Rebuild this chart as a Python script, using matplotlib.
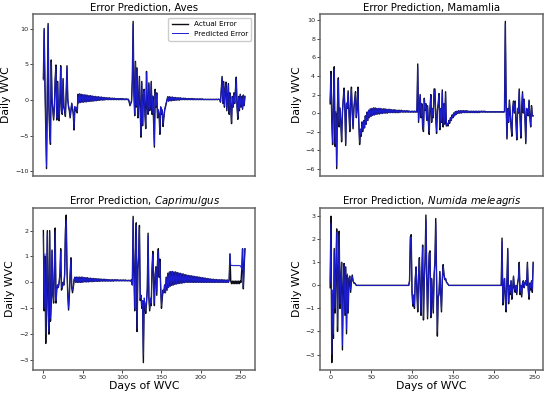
import matplotlib
matplotlib.use("Agg")
import matplotlib.pyplot as plt
import numpy as np

# ---------------- Aves ----------------
aves_a_act = [3.0, 10.0, 2.0, -4.0, -9.6, 1.0, 10.7, -1.0, -4.5, -6.2,
              5.6, 0.0, -1.5, -2.8, -1.0, 3.0, 4.9, -2.8, 2.6, -1.0,
              -2.9, 0.0, 4.8, -1.5, -2.0, 3.0, -1.0, -1.5, -2.3, 1.0,
              4.8, 0.0, -1.0, -1.5, -2.5, -1.5, -0.5, -1.2, -2.0, -4.2,
              -1.0, -1.5, -1.2, -1.8]
aves_a_pred = [2.8, 9.8, 2.5, -3.5, -9.3, 1.5, 10.4, -0.5, -4.2, -5.9,
               5.3, 0.3, -1.2, -2.6, -0.8, 2.7, 4.7, -2.5, 2.4, -0.8,
               -2.7, 0.2, 4.6, -1.2, -1.8, 2.8, -0.8, -1.3, -2.1, 1.0,
               4.6, 0.2, -0.8, -1.3, -2.3, -1.3, -0.4, -1.0, -1.8, -4.0,
               -0.9, -1.3, -1.0, -1.6]
aves_osc1 = [0.8, -0.4, 0.85, -0.35, 0.8, -0.3, 0.75, -0.3, 0.7, -0.25,
             0.7, -0.25, 0.65, -0.2, 0.6, -0.2, 0.6, -0.15, 0.55, -0.15,
             0.5, -0.1, 0.5, -0.1, 0.45, -0.05, 0.45, -0.05, 0.4, 0.0,
             0.4, 0.0, 0.35, 0.0, 0.35, 0.05, 0.3, 0.05, 0.3, 0.05,
             0.3, 0.05, 0.25, 0.05, 0.25, 0.05, 0.25, 0.05, 0.2, 0.05,
             0.2, 0.05, 0.2, 0.05, 0.2, 0.05, 0.2, 0.05, 0.15, 0.05,
             0.15, 0.05, 0.15, 0.05, 0.1]
aves_b_act = [-0.3, -0.8, -0.5, -0.2, 3.0, 11.0, 1.0, -2.2, 5.4, -1.0,
              4.5, -2.5, -0.5, 3.3, -1.5, -5.2, 2.6, -3.6, 0.5, 1.5,
              -2.0, -4.0, 4.0, -1.0, -2.0, 2.4, -1.5, -1.0, 2.6, -2.0,
              0.5, -3.0, -6.6, 1.5, -1.0, 1.0, -2.5, -1.5, -2.0, -4.8,
              -1.0, -2.0, -1.5, -3.7, -2.5, -1.5, -1.0, -0.5, 0.0]
aves_b_pred = [-0.2, -0.7, -0.4, -0.1, 2.8, 10.6, 1.2, -2.0, 5.2, -0.8,
               4.3, -2.3, -0.3, 3.1, -1.3, -5.0, 2.4, -3.4, 0.6, 1.3,
               -1.8, -3.8, 3.8, -0.8, -1.8, 2.2, -1.3, -0.8, 2.4, -1.8,
               0.6, -2.8, -6.3, 1.3, -0.8, 0.9, -2.3, -1.3, -1.8, -4.6,
               -0.9, -1.8, -1.3, -3.5, -2.3, -1.3, -0.8, -0.4, 0.0]
aves_osc2 = [0.45, -0.15, 0.45, -0.1, 0.4, -0.1, 0.4, -0.05, 0.35, -0.05,
             0.35, 0.0, 0.3, 0.0, 0.3, 0.0, 0.3, 0.05, 0.25, 0.05,
             0.25, 0.05, 0.25, 0.05, 0.2, 0.05, 0.2, 0.05, 0.2, 0.05,
             0.2, 0.05, 0.2, 0.05, 0.15, 0.05, 0.15, 0.05, 0.15, 0.05,
             0.15, 0.05, 0.15, 0.05, 0.15, 0.05, 0.1, 0.05, 0.1, 0.05,
             0.1, 0.05, 0.1, 0.05, 0.1, 0.05, 0.1, 0.05, 0.1, 0.05,
             0.1, 0.05, 0.1, 0.05, 0.1]
aves_d_act = [0.1, 0.05, -0.3, 1.5, 3.3, -0.5, 2.6, -1.0, 1.5, 2.5,
              -1.5, 0.5, 2.3, -2.0, 1.0, -1.0, -3.3, 0.5, -1.0, 1.0,
              -0.5, 1.5, 3.2, -1.0, -2.7, 0.5, -1.5, 0.8, -1.0, 0.5,
              -1.3, 0.7, -0.8, 0.5]
aves_d_pred = [0.1, 0.05, -0.2, 1.4, 3.1, -0.4, 2.4, -0.8, 1.4, 2.3,
               -1.3, 0.5, 2.1, -1.8, 0.9, -0.9, -3.1, 0.4, -0.9, 0.9,
               -0.4, 1.4, 3.0, -0.9, -2.5, 0.4, -1.3, 0.7, -0.9, 0.4,
               -1.2, 0.6, -0.7, 0.5]

# ---------------- Mamamlia ----------------
mam_a_act = [1.0, 4.5, -1.0, -3.4, 1.5, 5.0, -3.6, 0.0, -6.0, 1.0,
             3.8, -1.5, 0.5, -1.0, -3.1, 0.0, 1.5, 2.7, 0.5, -3.5,
             1.0, 0.5, 2.4, 0.0, -2.0, 1.0, 2.8, 0.0, -1.7, 0.5,
             1.5, 2.3, -0.5, 0.5, 2.8, -1.0, -3.4, -1.8, -2.5, -1.0,
             -2.0, -0.8]
mam_a_pred = [1.2, 4.2, -0.8, -3.2, 1.6, 4.7, -3.3, 0.2, -5.7, 1.1,
              3.6, -1.3, 0.6, -0.9, -2.9, 0.1, 1.4, 2.5, 0.6, -3.3,
              1.1, 0.6, 2.2, 0.1, -1.8, 1.1, 2.6, 0.1, -1.5, 0.6,
              1.4, 2.1, -0.4, 0.6, 2.6, -0.9, -3.2, -1.7, -2.3, -0.9,
              -1.9, -0.8]
mam_osc1 = [-1.6, -0.3, -1.2, 0.1, -0.8, 0.3, -0.5, 0.45, -0.35, 0.5,
            -0.25, 0.55, -0.2, 0.55, -0.15, 0.5, -0.1, 0.5, -0.1, 0.5,
            -0.05, 0.45, -0.05, 0.45, 0.0, 0.45, 0.0, 0.4, 0.0, 0.4,
            0.05, 0.4, 0.05, 0.35, 0.05, 0.35, 0.05, 0.35, 0.05, 0.3,
            0.05, 0.3, 0.05, 0.3, 0.1, 0.3, 0.1, 0.25, 0.1, 0.25,
            0.1, 0.25, 0.1, 0.25, 0.1, 0.2, 0.1, 0.2, 0.1, 0.2,
            0.1, 0.2, 0.1, 0.2]
mam_b_act = [0.1, 5.3, -1.0, 0.5, 2.0, -0.5, 1.0, -1.5, -2.0, 1.6,
             0.3, 1.0, -0.8, 0.8, -1.0, -2.3, 0.5, 2.0, -1.0, 0.5,
             -0.5, 2.6, 2.6, -0.5, -2.2, 0.3, 1.0, 2.1, -1.8, 0.5,
             -1.0, 2.5, -1.5, 1.0, -1.2, 2.3, -1.4, -1.2, -1.4, -0.8,
             -1.1, -0.5]
mam_b_pred = [0.1, 5.0, -0.8, 0.6, 1.9, -0.4, 1.0, -1.3, -1.8, 1.5,
              0.4, 1.0, -0.7, 0.8, -0.9, -2.1, 0.5, 1.9, -0.9, 0.5,
              -0.4, 2.4, 2.4, -0.4, -2.0, 0.4, 1.0, 2.0, -1.6, 0.5,
              -0.9, 2.3, -1.3, 1.0, -1.1, 2.1, -1.3, -1.1, -1.3, -0.8,
              -1.0, -0.5]
mam_osc2 = [-0.8, -0.2, -0.5, 0.0, -0.3, 0.15, -0.15, 0.2, -0.05, 0.25,
            0.0, 0.25, 0.0, 0.25, 0.05, 0.25, 0.05, 0.25, 0.05, 0.25,
            0.05, 0.2, 0.05, 0.2, 0.05, 0.2, 0.05, 0.2, 0.05, 0.2,
            0.05, 0.2, 0.05, 0.2, 0.05, 0.2, 0.1, 0.2, 0.1, 0.2,
            0.1, 0.2, 0.1, 0.15, 0.1, 0.15, 0.1, 0.15, 0.1, 0.15,
            0.1, 0.15, 0.1, 0.15, 0.1, 0.15, 0.1, 0.15, 0.1, 0.15,
            0.1, 0.15, 0.1, 0.15, 0.1, 0.15]
mam_c_act = [9.9, 1.0, -2.8, 0.5, -1.0, 1.4, 0.0, -1.5, -2.5, 0.5,
             1.3, 0.0, 1.3, -1.0, -2.9, 0.5, 0.0, 2.6, -0.5, -2.7,
             0.5, 2.3, 0.0, 1.5, -0.5, -3.3, 0.5, 0.2, -0.3, 1.4,
             -0.5, -1.5, 0.8, -0.3, -0.3]
mam_c_pred = [9.6, 1.1, -2.6, 0.5, -0.9, 1.3, 0.1, -1.4, -2.3, 0.5,
              1.2, 0.1, 1.2, -0.9, -2.7, 0.5, 0.1, 2.4, -0.4, -2.5,
              0.5, 2.1, 0.1, 1.4, -0.4, -3.1, 0.5, 0.2, -0.2, 1.3,
              -0.4, -1.4, 0.7, -0.3, -0.3]

# ---------------- Caprimulgus ----------------
cap_a_act = [2.0, -1.1, 1.0, -2.36, -0.5, 2.0, -1.0, -2.0, 2.0, -1.5,
             -0.8, 1.25, -0.5, -0.8, 0.5, 2.1, -0.8, -0.3, -0.1, -0.2,
             0.0, 0.3, 1.3, -0.3, -0.2, 0.0, -0.1, 0.3, 2.0, 2.6,
             0.5, -0.5, -1.07, -0.5, 0.3, 0.95, -0.2, -0.4, -0.2, 0.1]
cap_a_pred = [1.8, -1.0, 1.1, -2.0, -0.4, 1.9, -0.9, -1.9, 1.9, -1.4,
              -0.7, 1.2, -0.4, -0.7, 0.5, 2.0, -0.7, -0.2, -0.1, -0.2,
              0.0, 0.3, 1.2, -0.2, -0.2, 0.0, -0.1, 0.3, 1.9, 2.4,
              0.5, -0.4, -1.0, -0.4, 0.3, 0.9, -0.2, -0.3, -0.2, 0.1]
cap_osc1 = [0.2, 0.0, 0.2, 0.0, 0.2, 0.0, 0.2, 0.0, 0.2, 0.0,
            0.2, 0.02, 0.18, 0.02, 0.18, 0.02, 0.18, 0.02, 0.16, 0.03,
            0.16, 0.03, 0.15, 0.03, 0.15, 0.04, 0.14, 0.04, 0.14, 0.04,
            0.13, 0.04, 0.13, 0.05, 0.12, 0.05, 0.12, 0.05, 0.12, 0.05,
            0.11, 0.05, 0.11, 0.05, 0.1, 0.05, 0.1, 0.05, 0.1, 0.05,
            0.1, 0.06, 0.1, 0.06, 0.1, 0.06, 0.09, 0.06, 0.09, 0.06,
            0.09, 0.06, 0.09, 0.06, 0.09, 0.06, 0.08, 0.06, 0.08, 0.06,
            0.08]
cap_b_act = [0.05, 0.1, -0.1, 2.55, 0.5, -1.1, 1.0, 2.3, -1.9, 0.5,
             1.0, 2.2, -0.7, -0.5, -1.0, -0.8, -3.1, -0.7, -0.9, -1.2,
             -0.8, -0.3, 1.9, -0.6, -1.1, -0.7, -0.9, 0.5, 1.2, 0.0,
             -0.9, 0.3, 0.6, -0.5, 0.8, 1.3, 0.2, 0.9, -0.2, -1.0,
             -0.6, -0.3, -0.4]
cap_b_pred = [0.05, 0.1, -0.1, 2.4, 0.5, -1.0, 1.0, 2.2, -1.8, 0.5,
              1.0, 2.1, -0.6, -0.5, -0.9, -0.7, -2.8, -0.6, -0.8, -1.1,
              -0.7, -0.2, 1.8, -0.5, -1.0, -0.6, -0.8, 0.5, 1.1, 0.0,
              -0.8, 0.3, 0.6, -0.4, 0.8, 1.2, 0.2, 0.8, -0.2, -0.9,
              -0.5, -0.3, -0.4]
cap_osc2 = [-0.1, -0.4, 0.2, -0.3, 0.35, -0.2, 0.4, -0.15, 0.42, -0.12,
            0.42, -0.1, 0.4, -0.08, 0.4, -0.06, 0.38, -0.05, 0.36, -0.04,
            0.35, -0.03, 0.33, -0.02, 0.32, -0.01, 0.3, 0.0, 0.28, 0.0,
            0.27, 0.0, 0.26, 0.0, 0.25, 0.0, 0.24, 0.0, 0.23, 0.0,
            0.22, 0.0, 0.21, 0.0, 0.2, 0.0, 0.19, 0.0, 0.18, 0.0,
            0.17, 0.0, 0.16, 0.0, 0.15, 0.0, 0.14, 0.0, 0.13, 0.0,
            0.12, 0.0, 0.12, 0.0, 0.11, 0.0, 0.11, 0.0, 0.1, 0.0,
            0.1, 0.0, 0.1, 0.0, 0.1, 0.0, 0.09, 0.0, 0.09, 0.0,
            0.09, 0.0, 0.09]
cap_e_act = [1.1, 0.05, -0.05, 0.05, -0.05, 0.05, -0.05, 0.05, -0.05, 0.05,
             -0.05, 0.05, -0.05, 0.05, 0.0, 0.5, 1.3, -0.25, 0.6, 1.3]
cap_e_pred = [1.1, 0.68, 0.65, 0.66, 0.64, 0.66, 0.64, 0.66, 0.64, 0.66,
              0.64, 0.66, 0.64, 0.65, 0.6, 0.5, 1.3, -0.2, 0.6, 1.3]

# ---------------- Numida meleagris ----------------
num_a_act = [-0.1, 3.0, -3.35, -0.4, -2.3, 1.6, -1.2, 0.5, 2.45, -2.0,
             0.5, 2.35, -1.0, 0.2, 1.0, -2.8, -0.1, 0.95, -1.3, 0.8,
             -2.1, 0.45, -1.2, 0.3, 0.4, -0.3, 0.2, 0.45, 0.2, 0.1,
             0.1, 0.05]
num_a_pred = [0.1, 2.7, -3.0, -0.2, -2.1, 1.5, -1.0, 0.6, 2.3, -1.8,
              0.6, 2.2, -0.8, 0.3, 1.0, -2.6, 0.0, 0.9, -1.2, 0.8,
              -1.9, 0.5, -1.1, 0.3, 0.4, -0.2, 0.2, 0.4, 0.2, 0.1,
              0.1, 0.05]
num_flat1 = [0.0, 0.0, 0.0, 0.0, 0.0, 0.0, 0.0, 0.0, 0.0, 0.0, 0.0, 0.0, 0.0,
             0.0, 0.0, 0.0, 0.0, 0.0, 0.0, 0.0, 0.0, 0.0, 0.0, 0.0, 0.0, 0.0,
             0.0, 0.0, 0.0, 0.0, 0.0, 0.0, 0.0, 0.0, 0.0, 0.0, 0.0, 0.0, 0.0,
             0.0, 0.0, 0.0, 0.0, 0.0, 0.0, 0.0, 0.0, 0.0, 0.0, 0.0, 0.0, 0.0,
             0.0, 0.0, 0.0, 0.0, 0.0, 0.0, 0.0, 0.0, 0.0, 0.0, 0.0, 0.0, 0.0]
num_b_act = [0.2, 2.1, 2.2, -0.3, -0.9, -0.5, -1.0, 0.3, 0.8, -0.3,
             -1.15, 0.4, 1.2, -0.2, -1.3, 0.6, 1.75, -1.5, 0.2, 1.1,
             3.05, 0.5, -1.45, 0.2, 1.4, 1.5, -1.4, 0.3, -0.5, -1.2,
             0.45, 1.0, 2.9, 0.5, -2.2, -0.5, -0.4, 0.6, -0.3, -1.15,
             0.2, 0.9, 0.5, 0.25, 0.3, 0.15, 0.1, 0.05]
num_b_pred = [0.2, 2.0, 2.1, -0.2, -0.8, -0.4, -0.9, 0.3, 0.8, -0.2,
              -1.05, 0.4, 1.1, -0.1, -1.2, 0.6, 1.65, -1.4, 0.2, 1.0,
              2.85, 0.5, -1.35, 0.2, 1.3, 1.4, -1.3, 0.3, -0.4, -1.1,
              0.45, 0.9, 2.7, 0.5, -2.0, -0.4, -0.3, 0.6, -0.2, -1.05,
              0.2, 0.85, 0.5, 0.25, 0.3, 0.15, 0.1, 0.05]
num_flat2 = [0.0, 0.0, 0.0, 0.0, 0.0, 0.0, 0.0, 0.0, 0.0, 0.0, 0.0, 0.0, 0.0,
             0.0, 0.0, 0.0, 0.0, 0.0, 0.0, 0.0, 0.0, 0.0, 0.0, 0.0, 0.0, 0.0,
             0.0, 0.0, 0.0, 0.0, 0.0, 0.0, 0.0, 0.0, 0.0, 0.0, 0.0, 0.0, 0.0,
             0.0, 0.0, 0.0, 0.0, 0.0, 0.0, 0.0, 0.0, 0.0, 0.0, 0.0, 0.0, 0.0,
             0.0, 0.0, 0.0, 0.0, 0.0, 0.0, 0.0, 0.0, 0.0, 0.0, 0.0, 0.0, 0.0]
num_c_act = [2.05, -0.85, -0.2, 0.3, -0.6, -1.15, 0.3, 1.6, -0.8, 0.0,
             -0.4, 0.2, -0.6, -0.2, 0.4, -0.1, -0.3, 0.0, -0.4, 0.1,
             0.3, 1.0, -0.4, 0.0, -0.5, 0.1, 0.2, -0.1, 0.1, 0.2,
             0.0, 1.0, -0.2, -0.6, 0.1, -0.2, 0.2, -0.3, 1.0]
num_c_pred = [1.9, -0.75, -0.1, 0.3, -0.5, -1.05, 0.3, 1.5, -0.7, 0.0,
              -0.3, 0.2, -0.5, -0.1, 0.4, -0.1, -0.2, 0.0, -0.3, 0.1,
              0.3, 0.95, -0.3, 0.0, -0.4, 0.1, 0.2, -0.1, 0.1, 0.2,
              0.0, 0.95, -0.1, -0.5, 0.1, -0.1, 0.2, -0.2, 0.95]

aves_actual = aves_a_act + aves_osc1 + aves_b_act + aves_osc2 + aves_d_act
aves_pred = aves_a_pred + aves_osc1 + aves_b_pred + aves_osc2 + aves_d_pred
mam_actual = mam_a_act + mam_osc1 + mam_b_act + mam_osc2 + mam_c_act
mam_pred = mam_a_pred + mam_osc1 + mam_b_pred + mam_osc2 + mam_c_pred
cap_actual = cap_a_act + cap_osc1 + cap_b_act + cap_osc2 + cap_e_act
cap_pred = cap_a_pred + cap_osc1 + cap_b_pred + cap_osc2 + cap_e_pred
num_actual = num_a_act + num_flat1 + num_b_act + num_flat2 + num_c_act
num_pred = num_a_pred + num_flat1 + num_b_pred + num_flat2 + num_c_pred

titles = ["Error Prediction, Aves",
          "Error Prediction, Mamamlia",
          "Error Prediction, $\\it{Caprimulgus}$",
          "Error Prediction, $\\it{Numida\\ meleagris}$"]
yticks = [[-10, -5, 0, 5, 10],
          [-6, -4, -2, 0, 2, 4, 6, 8, 10],
          [-3, -2, -1, 0, 1, 2],
          [-3, -2, -1, 0, 1, 2, 3]]
xticks = [0, 50, 100, 150, 200, 250]
series = [(aves_actual, aves_pred), (mam_actual, mam_pred),
          (cap_actual, cap_pred), (num_actual, num_pred)]

W, H = 550.0, 395.0
rects = [
    [33.3 / W, 1 - 176 / H, (255 - 33.3) / W, (176 - 14) / H],
    [320 / W, 1 - 176 / H, (543.3 - 320) / W, (176 - 14) / H],
    [33.3 / W, 1 - 370 / H, (255 - 33.3) / W, (370 - 207.7) / H],
    [320 / W, 1 - 370 / H, (543.3 - 320) / W, (370 - 207.7) / H],
]

fig = plt.figure(figsize=(5.5, 3.95), dpi=100)
for i in range(4):
    ax = fig.add_axes(rects[i])
    act, pred = series[i]
    ax.plot(np.arange(len(act)), act, color="#0d0d1a", lw=1.0, label="Actual Error")
    ax.plot(np.arange(len(pred)), pred, color="#1c1cd0", lw=0.7, label="Predicted Error")
    ax.set_title(titles[i], fontsize=7.3, pad=2.5)
    ax.set_ylabel("Daily WVC", fontsize=7.8, labelpad=2.5)
    ax.set_yticks(yticks[i])
    ax.tick_params(labelsize=4.6, length=2, width=0.6, pad=1.5, colors="#222222")
    for sp in ax.spines.values():
        sp.set_color("#666666")
        sp.set_linewidth(1.1)
    if i < 2:
        ax.set_xticks([])
    else:
        ax.set_xticks(xticks)
        ax.set_xlabel("Days of WVC", fontsize=7.8, labelpad=1)
    if i == 0:
        ax.legend(loc="upper right", fontsize=5.2, handlelength=2.2,
                  borderpad=0.5, labelspacing=0.5, framealpha=1,
                  edgecolor="#cccccc", fancybox=True)

fig.savefig("out.png", dpi=100)
